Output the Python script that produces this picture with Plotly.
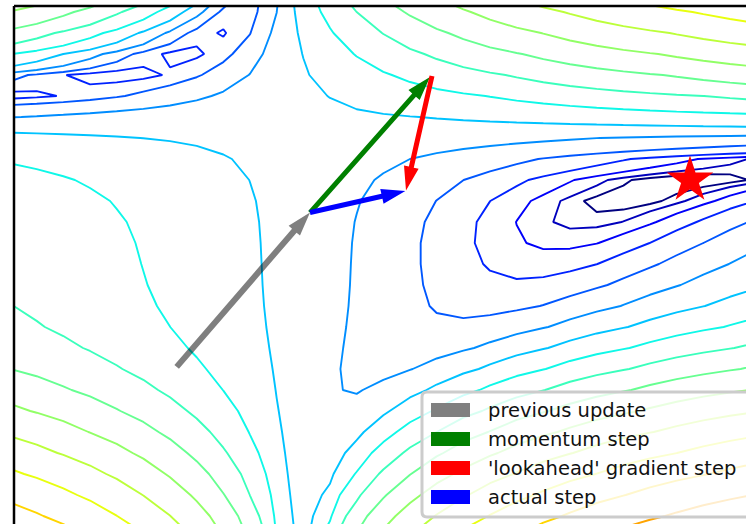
import numpy as np
import plotly.graph_objects as go

# ---- data ----
# Beale function surface sampled on a coarse grid (as in the original figure)
grid_x = np.arange(-4.5, 4.5 + 0.2, 0.2)
grid_y = np.arange(-4.5, 4.5 + 0.2, 0.2)
GX, GY = np.meshgrid(grid_x, grid_y)
beale = ((1.5 - GX + GX * GY) ** 2 + (2.25 - GX + GX * GY ** 2) ** 2
         + (2.625 - GX + GX * GY ** 3) ** 2)
contour_levels = np.logspace(-0.5, 5, 20)
minimum = [3.0, 0.5]

# arrows: tail -> head in data coordinates
arrow_names = ["previous update", "momentum step", "'lookahead' gradient step", "actual step"]
arrow_colors = ["rgba(0,0,0,0.5)", "green", "red", "blue"]
legend_colors = ["gray", "green", "red", "blue"]
arrow_tail_x = [-0.85, 0.15, 1.065, 0.15]
arrow_tail_y = [-1.28, 0.19, 1.49, 0.19]
arrow_head_x = [0.15, 1.05, 0.87, 0.865]
arrow_head_y = [0.19, 1.48, 0.40, 0.395]

# ---- matplotlib-style jet colormap ----
def jet(v):
    r = np.interp(v, [0, 0.35, 0.66, 0.89, 1], [0, 0, 1, 1, 0.5])
    g = np.interp(v, [0, 0.125, 0.375, 0.64, 0.91, 1], [0, 0, 1, 1, 0, 0])
    b = np.interp(v, [0, 0.11, 0.34, 0.65, 1], [0.5, 1, 1, 0, 0])
    return "rgb(%d,%d,%d)" % (round(r * 255), round(g * 255), round(b * 255))

W, H = 746, 524
L, T = 14, 6
PW, PH = W - L, H - T
SX, SY = 133.33, 105.0          # pixels per data unit
x_lo = (L - 290) / SX
x_hi = x_lo + PW / SX
y_hi = 1 + (127.5 - T) / SY
y_lo = y_hi - PH / SY

fig = go.Figure()
lmin, lmax = np.log10(contour_levels[0]), np.log10(contour_levels[-1])
for lev in contour_levels:
    c = jet((np.log10(lev) - lmin) / (lmax - lmin))
    fig.add_trace(go.Contour(
        x=grid_x, y=grid_y, z=beale, autocontour=False,
        contours=dict(start=float(lev), end=float(lev), size=1.0, coloring="none"),
        line=dict(width=1.9, smoothing=0, color=c), showscale=False, hoverinfo="skip",
    ))


def arrow_poly(x0, y0, x1, y1, w, hw, hl):
    # matplotlib-like arrow polygon built in pixel space, returned in data coords
    p0 = np.array([x0 * SX, y0 * SY])
    p1 = np.array([x1 * SX, y1 * SY])
    d = p1 - p0
    u = d / np.linalg.norm(d)
    v = np.array([-u[1], u[0]])
    b = p1 - u * hl
    pts = np.array([p0 + v * w / 2, b + v * w / 2, b + v * hw / 2, p1,
                    b - v * hw / 2, b - v * w / 2, p0 - v * w / 2, p0 + v * w / 2])
    return pts[:, 0] / SX, pts[:, 1] / SY


for i in range(4):
    xs, ys = arrow_poly(arrow_tail_x[i], arrow_tail_y[i], arrow_head_x[i], arrow_head_y[i],
                        6 if i == 0 else 5, 15, 24)
    fig.add_trace(go.Scatter(x=xs, y=ys, mode="lines", fill="toself",
                             fillcolor=arrow_colors[i], line=dict(width=0),
                             showlegend=False, hoverinfo="skip"))

fig.add_trace(go.Scatter(
    x=[minimum[0]], y=[minimum[1]], mode="markers",
    marker=dict(symbol="star", size=35, color="red", line=dict(width=0)),
    showlegend=False, hoverinfo="skip",
))


def px(xp):
    return (xp - L) / PW


def py(yp):
    return (H - yp) / PH


shapes = []
lx0, lx1, ly0, ly1, rr = 422, 760, 392, 517, 5
path = ("M %f,%f L %f,%f Q %f,%f %f,%f L %f,%f Q %f,%f %f,%f L %f,%f Q %f,%f %f,%f "
        "L %f,%f Q %f,%f %f,%f Z") % (
    px(lx0 + rr), py(ly0), px(lx1 - rr), py(ly0), px(lx1), py(ly0), px(lx1), py(ly0 + rr),
    px(lx1), py(ly1 - rr), px(lx1), py(ly1), px(lx1 - rr), py(ly1),
    px(lx0 + rr), py(ly1), px(lx0), py(ly1), px(lx0), py(ly1 - rr),
    px(lx0), py(ly0 + rr), px(lx0), py(ly0), px(lx0 + rr), py(ly0))
shapes.append(dict(type="path", xref="paper", yref="paper", path=path,
                   fillcolor="rgba(255,255,255,0.8)", line=dict(color="#cccccc", width=3)))
row_y = [410, 439, 468, 497]
for i in range(4):
    shapes.append(dict(type="rect", xref="paper", yref="paper",
                       x0=px(431), x1=px(470), y0=py(row_y[i] + 7), y1=py(row_y[i] - 7),
                       fillcolor=legend_colors[i], line=dict(width=0)))
    fig.add_annotation(x=px(486), y=py(row_y[i]), xref="paper", yref="paper",
                       text=arrow_names[i], showarrow=False, xanchor="left", yanchor="middle",
                       font=dict(family="DejaVu Sans", size=19.5, color="#111111"))
shapes.append(dict(type="line", xref="paper", yref="paper", x0=0, x1=0, y0=-0.05, y1=1,
                   line=dict(color="black", width=2.5)))
shapes.append(dict(type="line", xref="paper", yref="paper", x0=0, x1=1.05, y0=1, y1=1,
                   line=dict(color="black", width=2.5)))

fig.update_layout(
    width=W, height=H, margin=dict(l=L, r=0, t=T, b=0),
    paper_bgcolor="white", plot_bgcolor="white", showlegend=False,
    shapes=shapes,
    xaxis=dict(range=[x_lo, x_hi], showgrid=False, zeroline=False, showticklabels=False, ticks=""),
    yaxis=dict(range=[y_lo, y_hi], showgrid=False, zeroline=False, showticklabels=False, ticks=""),
)
fig.write_html("out.html", config={"displayModeBar": False},
               post_script="document.body.style.margin='0';document.body.style.overflow='hidden';")
